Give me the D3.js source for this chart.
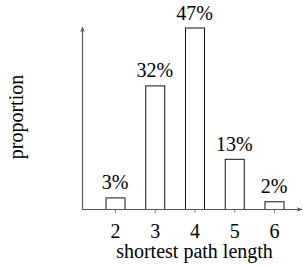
<!DOCTYPE html>
<html>
<head>
<meta charset="utf-8">
<script src="https://cdn.jsdelivr.net/npm/d3@7"></script>
<style>
  body { margin: 0; background: #fff; }
  text { font-family: "Liberation Serif", "DejaVu Serif", serif; fill: #000; }
</style>
</head>
<body>
<svg id="chart" width="303" height="266" viewBox="0 0 303 266"></svg>
<script>
// data
const lengths = [2, 3, 4, 5, 6];
const proportions = [3, 32, 47, 13, 2];
const labels = ["3%", "32%", "47%", "13%", "2%"];

const svg = d3.select("#chart");
const axisColor = "#555";
const serif = "'Liberation Serif', 'DejaVu Serif', serif";

const x = d3.scaleLinear().domain([2, 6]).range([115, 274]);
const y = d3.scaleLinear().domain([0, 47]).range([209, 27.5]);
const barW = 19;

// arrow marker
svg.append("defs").append("marker")
    .attr("id", "arrow")
    .attr("viewBox", "0 0 10 10")
    .attr("refX", 9).attr("refY", 5)
    .attr("markerWidth", 5).attr("markerHeight", 5)
    .attr("orient", "auto")
  .append("path")
    .attr("d", "M0,1 L10,5 L0,9 L3,5 Z")
    .attr("fill", axisColor);

// bars
svg.append("g").selectAll("rect")
    .data(lengths)
    .enter()
    .append("rect")
    .attr("x", (d, i) => x(d) - barW / 2 + 0.5)
    .attr("y", (d, i) => y(proportions[i]) + 0.5)
    .attr("width", barW)
    .attr("height", (d, i) => y(0) - y(proportions[i]))
    .attr("fill", "#fff")
    .attr("stroke", "#111")
    .attr("stroke-width", 1);

// value labels
svg.append("g").selectAll("text")
    .data(lengths)
    .enter()
    .append("text")
    .attr("x", d => x(d))
    .attr("y", (d, i) => y(proportions[i]) - 8)
    .attr("text-anchor", "middle")
    .style("font-family", serif)
    .attr("font-size", 20)
    .text((d, i) => labels[i]);

// x axis ticks
const xAxis = d3.axisBottom(x).tickValues(lengths).tickFormat(d3.format("d")).tickSize(4).tickPadding(11);
const gx = svg.append("g").attr("transform", `translate(0,${y(0)})`).call(xAxis);
gx.select(".domain").remove();
gx.selectAll(".tick line").attr("stroke", "#888");
gx.selectAll(".tick text").attr("font-size", 20).style("font-family", serif);

// axis lines with arrows
svg.append("line")
    .attr("x1", 82.5).attr("y1", y(0) + 0.5)
    .attr("x2", 302).attr("y2", y(0) + 0.5)
    .attr("stroke", axisColor).attr("stroke-width", 1.2)
    .attr("marker-end", "url(#arrow)");
svg.append("line")
    .attr("x1", 82.5).attr("y1", y(0) + 0.5)
    .attr("x2", 82.5).attr("y2", 27)
    .attr("stroke", axisColor).attr("stroke-width", 1.2)
    .attr("marker-end", "url(#arrow)");

// axis titles
svg.append("text")
    .attr("x", 194.5).attr("y", 258)
    .attr("text-anchor", "middle")
    .style("font-family", serif)
    .attr("font-size", 20)
    .text("shortest path length");
svg.append("text")
    .attr("transform", "translate(23,117) rotate(-90)")
    .attr("text-anchor", "middle")
    .style("font-family", serif)
    .attr("font-size", 20)
    .text("proportion");
</script>
</body>
</html>
